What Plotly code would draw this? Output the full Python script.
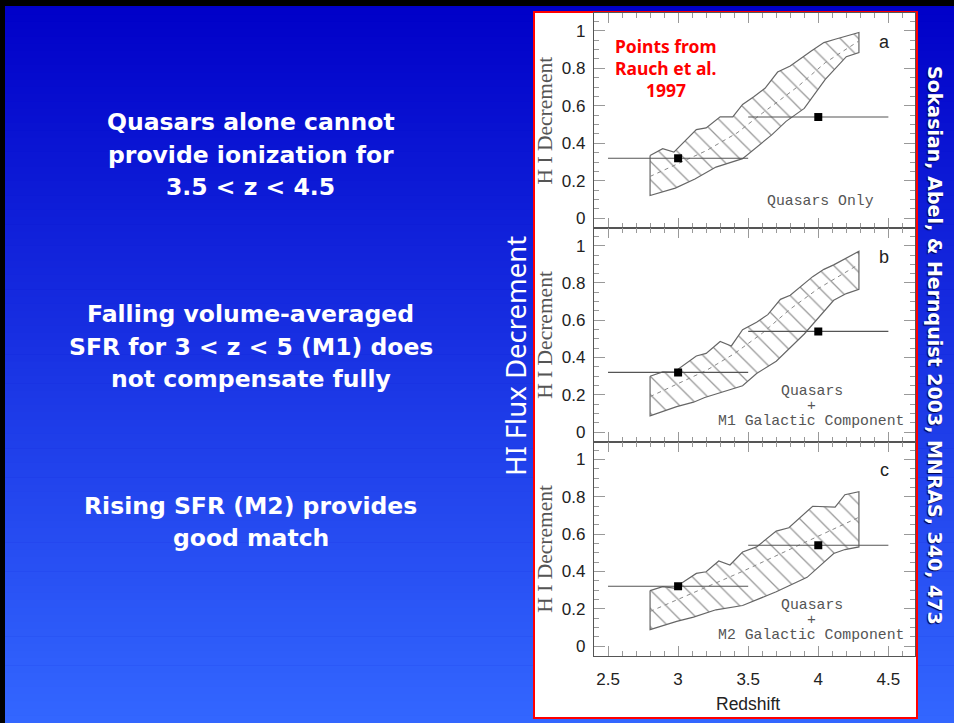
import plotly.graph_objects as go

W, H = 954, 723

# ---------------- data ----------------
# panel a : Quasars Only
a_up_x = [2.80, 2.89, 2.97, 3.13, 3.20, 3.30, 3.39, 3.46, 3.54, 3.62, 3.71, 3.80, 3.95, 4.04, 4.12, 4.29]
a_up_y = [0.335, 0.371, 0.353, 0.473, 0.482, 0.541, 0.541, 0.607, 0.648, 0.693, 0.780, 0.812, 0.892, 0.937, 0.955, 0.991]
a_lo_x = [2.80, 2.98, 3.12, 3.27, 3.46, 3.67, 3.77, 3.90, 4.05, 4.20, 4.29]
a_lo_y = [0.121, 0.161, 0.209, 0.273, 0.318, 0.446, 0.517, 0.586, 0.741, 0.862, 0.884]
a_mid_x = [2.80, 3.00, 3.20, 3.42, 3.60, 3.85, 4.05, 4.29]
a_mid_y = [0.223, 0.29, 0.36, 0.455, 0.56, 0.70, 0.83, 0.946]

# panel b : Quasars + M1
b_up_x = [2.80, 2.89, 2.97, 3.13, 3.20, 3.30, 3.38, 3.46, 3.56, 3.64, 3.73, 3.80, 3.96, 4.04, 4.11, 4.29]
b_up_y = [0.299, 0.323, 0.321, 0.408, 0.422, 0.486, 0.462, 0.549, 0.589, 0.630, 0.712, 0.734, 0.834, 0.873, 0.897, 0.970]
b_lo_x = [2.80, 2.99, 3.11, 3.19, 3.46, 3.56, 3.70, 3.90, 4.01, 4.11, 4.20, 4.29]
b_lo_y = [0.087, 0.136, 0.160, 0.185, 0.248, 0.314, 0.380, 0.526, 0.622, 0.707, 0.743, 0.766]
b_mid_x = [2.80, 3.00, 3.20, 3.40, 3.60, 3.80, 4.00, 4.29]
b_mid_y = [0.19, 0.26, 0.33, 0.42, 0.53, 0.66, 0.77, 0.90]

# panel c : Quasars + M2
c_up_x = [2.80, 2.89, 2.97, 3.13, 3.20, 3.29, 3.37, 3.46, 3.56, 3.70, 3.79, 3.96, 4.12, 4.19, 4.29]
c_up_y = [0.297, 0.318, 0.310, 0.389, 0.398, 0.456, 0.434, 0.504, 0.531, 0.616, 0.634, 0.749, 0.744, 0.811, 0.827]
c_lo_x = [2.80, 2.99, 3.11, 3.27, 3.46, 3.70, 3.92, 4.11, 4.19, 4.29]
c_lo_y = [0.088, 0.132, 0.155, 0.194, 0.217, 0.291, 0.368, 0.496, 0.517, 0.531]
c_mid_x = [2.80, 3.46, 4.29]
c_mid_y = [0.185, 0.40, 0.69]

# Rauch et al. 1997 points
obs_z = [3.0, 4.0]
obs_d = [0.32, 0.54]
obs_dz = [0.5, 0.5]

panel_letters = ["a", "b", "c"]
panel_labels = [["Quasars Only"],
                ["Quasars", "+", "M1 Galactic Component"],
                ["Quasars", "+", "M2 Galactic Component"]]

x_ticks = [2.5, 3, 3.5, 4, 4.5]
y_ticks = [0, 0.2, 0.4, 0.6, 0.8, 1]

left_blocks = [
    ["Quasars alone cannot", "provide ionization for", "3.5 < z < 4.5"],
    ["Falling volume-averaged", "SFR for 3 < z < 5 (M1) does", "not compensate fully"],
    ["Rising SFR (M2) provides", "good match"],
]
citation = "Sokasian, Abel, & Hernquist 2003, MNRAS, 340, 473"

# ---------------- helpers ----------------
def PX(x):
    return x / W

def PY(y):
    return 1 - y / H

def note(x, y, text, font, angle=0):
    return dict(x=PX(x), y=PY(y), xref="paper", yref="paper", text=text,
                xanchor="center", yanchor="middle", textangle=angle,
                showarrow=False, font=font)

fig = go.Figure()

# background gradient bands
top_c = (0, 0, 200)
bot_c = (51, 102, 255)
nb = 100
shapes = []
for i in range(nb):
    t = i / (nb - 1)
    col = "rgb(%d,%d,%d)" % tuple(round(top_c[k] + (bot_c[k] - top_c[k]) * t) for k in range(3))
    y0 = H * i / nb
    y1 = H * (i + 1) / nb + 0.6
    shapes.append(dict(type="rect", xref="paper", yref="paper", x0=0, x1=1,
                       y0=PY(y1), y1=PY(y0), fillcolor=col, line=dict(width=0), layer="below"))
# black border (top, left)
shapes.append(dict(type="rect", xref="paper", yref="paper", x0=0, x1=1, y0=PY(6), y1=1,
                   fillcolor="black", line=dict(width=0), layer="below"))
shapes.append(dict(type="rect", xref="paper", yref="paper", x0=0, x1=PX(5), y0=0, y1=1,
                   fillcolor="black", line=dict(width=0), layer="below"))
# white figure box with red border
shapes.append(dict(type="rect", xref="paper", yref="paper", x0=PX(534), x1=PX(917),
                   y0=PY(718), y1=PY(12), fillcolor="white",
                   line=dict(color="#ff0000", width=2), layer="below"))

panels = [
    (a_up_x, a_up_y, a_lo_x, a_lo_y, a_mid_x, a_mid_y),
    (b_up_x, b_up_y, b_lo_x, b_lo_y, b_mid_x, b_mid_y),
    (c_up_x, c_up_y, c_lo_x, c_lo_y, c_mid_x, c_mid_y),
]
axis_ids = [("x", "y"), ("x2", "y2"), ("x3", "y3")]

for (ux, uy, lx, ly, mx, my), (xa, ya) in zip(panels, axis_ids):
    px_ = ux + lx[::-1] + [ux[0]]
    py_ = uy + ly[::-1] + [uy[0]]
    fig.add_trace(go.Scatter(
        x=px_, y=py_, mode="lines", fill="toself",
        fillcolor="white",
        fillpattern=dict(shape="\\", fgcolor="#333333", bgcolor="white", size=13, solidity=0.1),
        line=dict(color="#666666", width=1.2), xaxis=xa, yaxis=ya, showlegend=False,
        hoverinfo="skip"))
    fig.add_trace(go.Scatter(
        x=mx, y=my, mode="lines", line=dict(color="#888888", width=1, dash="4px,4px"),
        xaxis=xa, yaxis=ya, showlegend=False, hoverinfo="skip"))
    fig.add_trace(go.Scatter(
        x=obs_z, y=obs_d, mode="markers",
        marker=dict(symbol="square", size=8, color="black"),
        error_x=dict(type="data", array=obs_dz, color="#555555", thickness=1.1, width=0),
        xaxis=xa, yaxis=ya, showlegend=False))

xdom = [PX(594), PX(915)]
ydoms = [[PY(228), PY(13)], [PY(441.7), PY(228)], [PY(655.7), PY(441.7)]]
tickfont = dict(family="Liberation Sans, Arial, sans-serif", size=17, color="#222222")

layout = dict(
    width=W, height=H, margin=dict(l=0, r=0, t=0, b=0),
    paper_bgcolor="#0000c8", plot_bgcolor="rgba(0,0,0,0)",
    shapes=shapes, showlegend=False,
)

for i, (xa, ya) in enumerate(axis_ids):
    xname = "xaxis" if i == 0 else "xaxis%d" % (i + 1)
    yname = "yaxis" if i == 0 else "yaxis%d" % (i + 1)
    layout[xname] = dict(
        domain=xdom, anchor=ya, range=[2.4, 4.69], tickvals=x_ticks,
        ticks="inside", ticklen=10, tickwidth=1.3, tickcolor="#999999",
        minor=dict(dtick=0.1, tick0=2.5, ticks="inside", ticklen=5, tickwidth=1.2, tickcolor="#999999"),
        showline=True, linecolor="#555555", linewidth=1.3, mirror="allticks",
        showgrid=False, zeroline=False, showticklabels=(i == 2),
        tickfont=tickfont, ticklabelstandoff=8,
    )
    if i < 2:
        layout[xname]["matches"] = "x3"
    layout[yname] = dict(
        domain=ydoms[i], anchor=xa, range=[-0.052, 1.095], tickvals=y_ticks,
        ticks="inside", ticklen=11, tickwidth=1.3, tickcolor="#999999",
        minor=dict(dtick=0.05, tick0=0, ticks="inside", ticklen=5, tickwidth=1.2, tickcolor="#999999"),
        showline=True, linecolor="#555555", linewidth=1.3, mirror="allticks",
        showgrid=False, zeroline=False, tickfont=tickfont, ticklabelstandoff=4,
    )

fig.update_layout(**layout)

ann = []
# y-axis titles & panel labels
panel_centers = [(13 + 228) / 2, (228 + 441.7) / 2, (441.7 + 655.7) / 2]
letter_y = [42, 257, 470]
serif = dict(family="Liberation Serif, Times New Roman, serif", size=21.5, color="#555555")
for i in range(3):
    ann.append(note(545, panel_centers[i], "H I Decrement", serif, -90))
    ann.append(note(884, letter_y[i], panel_letters[i],
                    dict(family="Liberation Sans, Arial, sans-serif", size=18, color="#222222")))
mono = dict(family="Liberation Mono, Courier New, monospace", size=14.8, color="#555555")
ann.append(note(820, 201, panel_labels[0][0], mono))
for i, base in [(1, 391), (2, 605)]:
    ys = [base, base + 15, base + 30]
    xs = [812, 811, 811]
    for t, yy, xx in zip(panel_labels[i], ys, xs):
        ann.append(note(xx, yy, t, mono))

# red note
for t, yy in zip(["Points from", "Rauch et al.", "1997"], [46, 68, 90]):
    ann.append(note(666, yy, "<b>%s</b>" % t,
                    dict(family="Noto Sans, sans-serif", size=17.5, color="#ff0000")))

# x axis title
ann.append(note(748, 704, "Redshift",
                dict(family="Liberation Sans, Arial, sans-serif", size=17.5, color="#222222")))

# slide texts
block_y = [[122, 155, 187], [314, 347, 379], [506, 538]]
for lines, ys in zip(left_blocks, block_y):
    for t, yy in zip(lines, ys):
        ann.append(note(251, yy, "<b>%s</b>" % t,
                        dict(family="DejaVu Sans, Verdana, sans-serif", size=23.5, color="white")))

ann.append(note(515, 356, "HI Flux Decrement",
                dict(family="Noto Sans, sans-serif", size=27.5, color="white"), -90))
ann.append(note(935, 345, "<b>%s</b>" % citation,
                dict(family="DejaVu Sans, Verdana, sans-serif", size=19, color="white",
                     shadow="1px 1px 1px #000044"), 90))

fig.update_layout(annotations=ann)
fig.write_html("out.html")
